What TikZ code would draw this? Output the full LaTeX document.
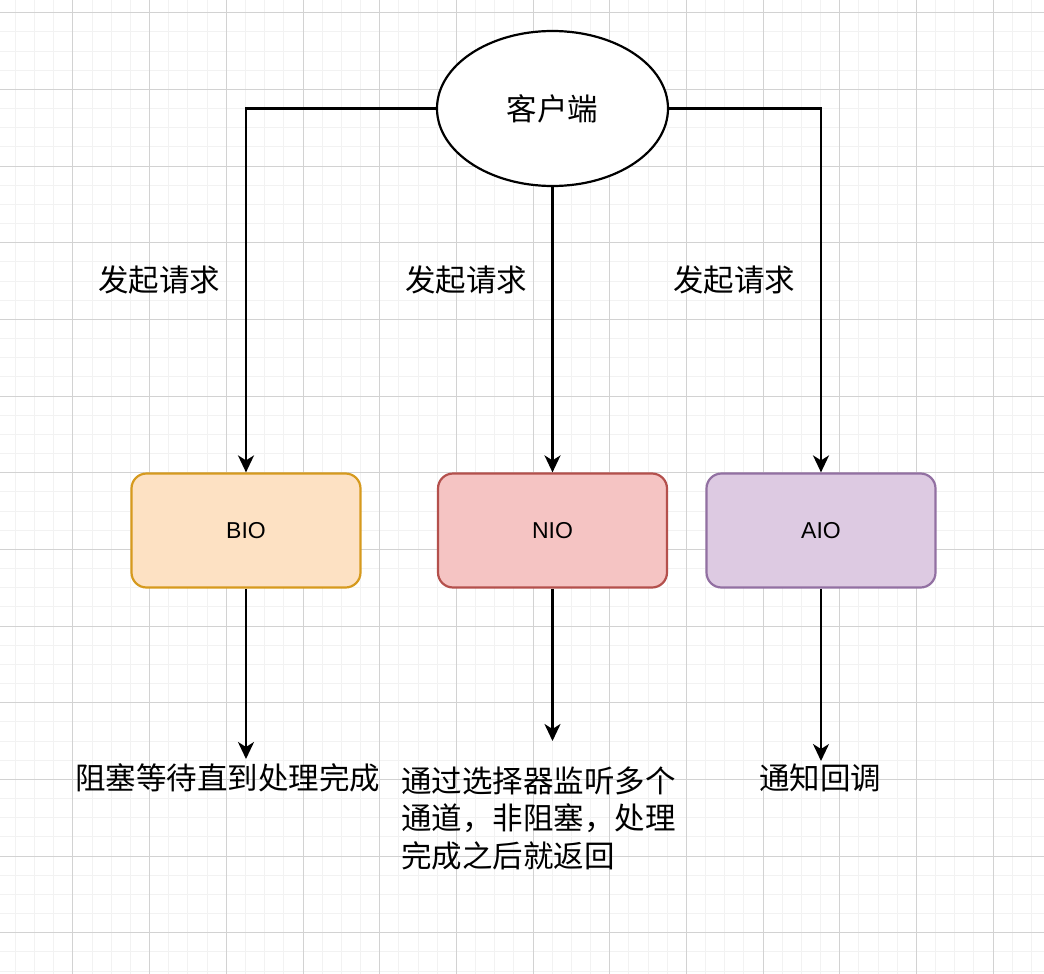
\documentclass[tikz,border=0pt]{standalone}
\usepackage{fontspec}
\setmainfont{Liberation Sans}
\newfontfamily\cjk{Noto Sans CJK SC}
\usetikzlibrary{shapes.geometric,arrows.meta}
\definecolor{gridminor}{HTML}{F2F2F2}
\definecolor{gridmajor}{HTML}{D2D2D2}
\definecolor{bioFill}{HTML}{FDE1C3}
\definecolor{bioLine}{HTML}{D69A1E}
\definecolor{nioFill}{HTML}{F5C4C3}
\definecolor{nioLine}{HTML}{B4504C}
\definecolor{aioFill}{HTML}{DDCAE2}
\definecolor{aioLine}{HTML}{9270A2}
\begin{document}
\begin{tikzpicture}[x=1pt,y=-1pt,
  clientnode/.style={draw=black, line width=2.2pt, fill=white, ellipse, minimum width=231pt, minimum height=155pt, inner sep=0pt, font=\cjk\fontsize{30.5}{36}\selectfont},
  iobox/.style={rounded corners=15pt, line width=2.2pt, minimum width=229pt, minimum height=114pt, inner sep=0pt, font=\fontsize{23}{27}\selectfont},
  lbl/.style={inner sep=0pt, font=\cjk\fontsize{30.5}{37.5}\selectfont},
  conn/.style={line width=2.2pt, draw=black, -{Stealth[length=17pt,width=16pt,inset=5pt]}}
]
\fill[white] (0,0) rectangle (1044,974);
\useasboundingbox (0,0) rectangle (1044,974);
% grid
\foreach \i in {0,...,55} \draw[gridminor, line width=1pt] ({-3.67+\i*19.1667},0) -- ++(0,974);
\foreach \j in {0,...,52} \draw[gridminor, line width=1pt] (0,{-6.47+\j*19.1667}) -- ++(1044,0);
\foreach \i in {0,...,14} \draw[gridmajor, line width=1pt] ({-3.67+\i*76.667},0) -- ++(0,974);
\foreach \j in {0,...,13} \draw[gridmajor, line width=1pt] (0,{-63.97+\j*76.667}) -- ++(1044,0);

% nodes
\node[clientnode] (client) at (552.5,108.5) {客户端};
\node[iobox, draw=bioLine, fill=bioFill] (bio) at (246,530.5) {BIO};
\node[iobox, draw=nioLine, fill=nioFill] (nio) at (552.5,530.5) {NIO};
\node[iobox, draw=aioLine, fill=aioFill] (aio) at (821,530.5) {AIO};

\node[lbl] (req1) at (159,280) {发起请求};
\node[lbl] (req2) at (466,280) {发起请求};
\node[lbl] (req3) at (734,280) {发起请求};

\node[lbl] (tbio) at (227.5,778) {阻塞等待直到处理完成};
\node[lbl, align=left, anchor=west] (tnio) at (401,818) {通过选择器监听多个\\通道，非阻塞，处理\\完成之后就返回};
\node[lbl] (taio) at (820,778) {通知回调};

\coordinate (ebio) at (246,759);
\coordinate (enio) at (552.5,741);
\coordinate (eaio) at (821,761);

% connectors
\draw[conn] (client.west) -| (bio.north);
\draw[conn] (client.south) -- (nio.north);
\draw[conn] (client.east) -| (aio.north);
\draw[conn] (bio.south) -- (ebio);
\draw[conn] (nio.south) -- (enio);
\draw[conn] (aio.south) -- (eaio);
\end{tikzpicture}
\end{document}
